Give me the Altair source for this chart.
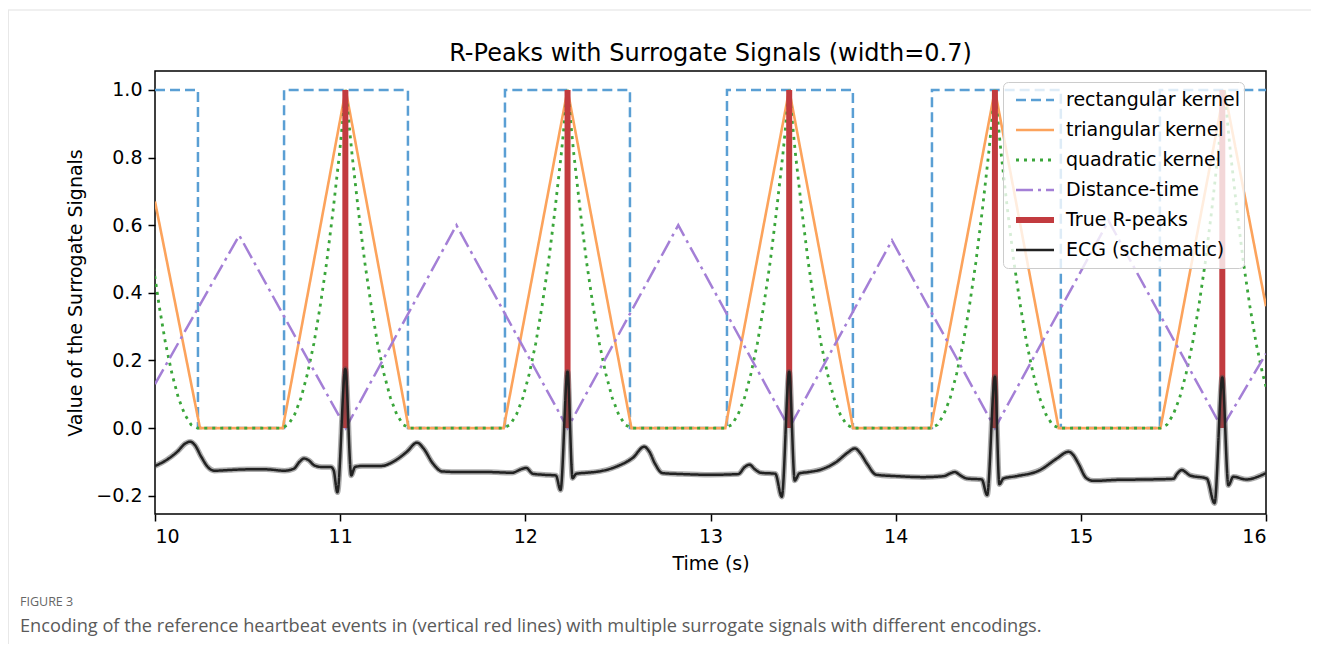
import altair as alt
import pandas as pd

# ---------------- data ----------------
series_order = ["rectangular kernel", "triangular kernel", "quadratic kernel",
                "Distance-time", "True R-peaks", "ECG (schematic)"]

rect_t = [10.0, 10.232, 10.232, 10.697, 10.697, 11.366, 11.366, 11.89, 11.89,
          12.565, 12.565, 13.089, 13.089, 13.769, 13.769, 14.196, 14.196,
          14.892, 14.892, 15.427, 15.427, 16.0]
rect_v = [1, 1, 0, 0, 1, 1, 0, 0, 1, 1, 0, 0, 1, 1, 0, 0, 1, 1, 0, 0, 1, 1]

tri_t = [10.0, 10.243, 10.69, 11.03, 11.37, 11.883, 12.228, 12.573, 13.08,
         13.425, 13.77, 14.19, 14.536, 14.88, 15.43, 15.775, 16.0]
tri_v = [0.67, 0, 0, 1, 0, 0, 1, 0, 0, 1, 0, 0, 1, 0, 0, 1, 0.36]

quad_centers = [9.885, 11.03, 12.228, 13.425, 14.536, 15.775]
quad_off = [-0.345, -0.31, -0.276, -0.241, -0.207, -0.172, -0.138, -0.103,
            -0.069, -0.034, 0.0, 0.034, 0.069, 0.103, 0.138, 0.172, 0.207,
            0.241, 0.276, 0.31, 0.345]
quad_val = [0.0, 0.01, 0.04, 0.09, 0.16, 0.25, 0.36, 0.49, 0.64, 0.81, 1.0,
            0.81, 0.64, 0.49, 0.36, 0.25, 0.16, 0.09, 0.04, 0.01, 0.0]

dist_t = [10.0, 10.455, 11.03, 11.628, 12.228, 12.826, 13.425, 13.98, 14.536,
          15.15, 15.762, 16.0]
dist_v = [0.13, 0.57, 0.0, 0.6, 0.0, 0.6, 0.0, 0.555, 0.0, 0.613, 0.0, 0.22]

rpeak_t = [11.028, 12.228, 13.425, 14.536, 15.764]

ecg_t = [10.00, 10.06, 10.12, 10.165, 10.19, 10.215, 10.25, 10.285, 10.32, 10.40,
         10.50, 10.60, 10.70, 10.75, 10.78, 10.805, 10.83, 10.86, 10.90, 10.95,
         10.965, 10.985, 11.028, 11.06, 11.08, 11.12, 11.22, 11.30, 11.36, 11.415,
         11.45, 11.50, 11.55, 11.65, 11.80, 11.93, 11.975, 12.005, 12.04, 12.10,
         12.165, 12.19, 12.228, 12.255, 12.275, 12.33, 12.40, 12.50, 12.58, 12.642,
         12.67, 12.70, 12.74, 12.85, 13.00, 13.15, 13.185, 13.21, 13.24, 13.27,
         13.35, 13.385, 13.425, 13.455, 13.48, 13.53, 13.60, 13.68, 13.74, 13.78,
         13.81, 13.845, 13.895, 14.00, 14.15, 14.26, 14.29, 14.32, 14.35, 14.385,
         14.465, 14.494, 14.536, 14.56, 14.582, 14.654, 14.78, 14.87, 14.933, 14.96,
         14.987, 15.03, 15.07, 15.20, 15.35, 15.50, 15.52, 15.546, 15.57, 15.59,
         15.68, 15.722, 15.764, 15.797, 15.823, 15.895, 15.95, 16.00]
ecg_v = [-0.112, -0.095, -0.07, -0.045, -0.04, -0.05, -0.085, -0.115, -0.126, -0.124,
         -0.122, -0.122, -0.126, -0.12, -0.10, -0.09, -0.095, -0.11, -0.115, -0.115,
         -0.125, -0.19, 0.175, -0.14, -0.115, -0.112, -0.112, -0.095, -0.07, -0.043,
         -0.06, -0.104, -0.128, -0.13, -0.13, -0.132, -0.122, -0.118, -0.135, -0.138,
         -0.14, -0.183, 0.167, -0.148, -0.135, -0.132, -0.128, -0.112, -0.088, -0.055,
         -0.07, -0.105, -0.133, -0.136, -0.138, -0.136, -0.115, -0.108, -0.122, -0.132,
         -0.135, -0.203, 0.167, -0.155, -0.134, -0.13, -0.122, -0.10, -0.073, -0.06,
         -0.075, -0.105, -0.138, -0.142, -0.145, -0.142, -0.135, -0.13, -0.14, -0.149,
         -0.152, -0.198, 0.152, -0.166, -0.149, -0.142, -0.124, -0.09, -0.07, -0.08,
         -0.105, -0.148, -0.156, -0.153, -0.152, -0.15, -0.135, -0.124, -0.132, -0.14,
         -0.149, -0.222, 0.15, -0.169, -0.144, -0.152, -0.145, -0.133]

title_text = "R-Peaks with Surrogate Signals (width=0.7)"
x_title = "Time (s)"
y_title = "Value of the Surrogate Signals"
x_ticks = [10, 11, 12, 13, 14, 15, 16]
y_ticks = [-0.2, 0.0, 0.2, 0.4, 0.6, 0.8, 1.0]
fig_label = "FIGURE 3"
caption = ("Encoding of the reference heartbeat events in (vertical red lines) "
           "with multiple surrogate signals with different encodings.")

# ---------------- styles ----------------
colors = ["#5a9fd4", "#fca35c", "#3aa63a", "#a47fd6", "#c23b3f", "#222222"]
dashes = [[10, 5], [1, 0], [3, 5], [17, 5, 3, 5], [1, 0], [1, 0]]
widths = [2.5, 2.6, 2.8, 2.5, 6.0, 2.5]

# ---------------- tables ----------------
rows = []
k = 0


def add(series, seg, ts, vs):
    global k
    for t, v in zip(ts, vs):
        rows.append(dict(series=series, seg=seg, t=t, v=v, o=k))
        k += 1


add(series_order[0], "rect", rect_t, rect_v)
add(series_order[1], "tri", tri_t, tri_v)
for c in quad_centers:
    add(series_order[2], "quad", [c + d for d in quad_off], quad_val)
add(series_order[3], "dist", dist_t, dist_v)
for i, t in enumerate(rpeak_t):
    add(series_order[4], f"r{i}", [t, t], [0, 1])
kern = pd.DataFrame(rows)

ecg = pd.DataFrame({"t": ecg_t, "v": ecg_v})
ecg["series"] = series_order[5]
ecg["o"] = range(len(ecg))

leg = alt.Legend(title=None, orient="none", legendX=848, legendY=11,
                 symbolType="stroke", symbolSize=1444, symbolOffset=7,
                 clipHeight=30, labelFontSize=19,
                 labelFont="DejaVu Sans", labelColor="black", labelOffset=9,
                 labelLimit=400, labelExpr="datum.label + '\u00a0\u00a0'",
                 fillColor="rgba(255,255,255,0.8)", strokeColor="#cccccc",
                 cornerRadius=5, padding=3, rowPadding=0)

xenc = alt.X("t:Q", scale=alt.Scale(domain=[10, 16], nice=False, zero=False),
             axis=alt.Axis(title=x_title, values=x_ticks, format="d",
                           titlePadding=8))
yenc = alt.Y("v:Q", scale=alt.Scale(domain=[-0.254, 1.056], nice=False, zero=False),
             axis=alt.Axis(title=y_title, values=y_ticks, format=".1f",
                           titlePadding=10))
cenc = alt.Color("series:N", scale=alt.Scale(domain=series_order, range=colors), legend=leg)
denc = alt.StrokeDash("series:N", scale=alt.Scale(domain=series_order, range=dashes), legend=leg)
wenc = alt.StrokeWidth("series:N", scale=alt.Scale(type="ordinal", domain=series_order,
                                                   range=widths), legend=leg)

kernels = alt.Chart(kern).mark_line(clip=True).encode(
    x=xenc, y=yenc, color=cenc, strokeDash=denc, strokeWidth=wenc,
    detail="seg:N", order="o:Q")

halo = alt.Chart(ecg).mark_line(clip=True, interpolate="monotone", color="#4a4a4a",
                                strokeWidth=5.5, opacity=0.45).encode(
    x="t:Q", y="v:Q", order="o:Q")

ecg_line = alt.Chart(ecg).mark_line(clip=True, interpolate="monotone").encode(
    x="t:Q", y="v:Q", color=cenc, strokeDash=denc, strokeWidth=wenc, order="o:Q")

one = pd.DataFrame({"a": [0]})
top_border = alt.Chart(one).mark_rule(color="#e2e2e2", strokeWidth=1.2).encode(
    x=alt.value(-147), x2=alt.value(1164), y=alt.value(-61))
left_border = alt.Chart(one).mark_rule(color="#e8e8e8", strokeWidth=1).encode(
    x=alt.value(-146.5), y=alt.value(-61), y2=alt.value(590))

ttl = alt.Chart(pd.DataFrame({"txt": [title_text]})).mark_text(
    align="center", baseline="alphabetic", font="DejaVu Sans", fontSize=24,
    color="black").encode(x=alt.value(555.5), y=alt.value(-10), text="txt:N")
lab = alt.Chart(pd.DataFrame({"txt": [fig_label]})).mark_text(
    align="left", baseline="middle", font="Open Sans", fontSize=12.5,
    color="#666666").encode(x=alt.value(-135), y=alt.value(531), text="txt:N")
cap = alt.Chart(pd.DataFrame({"txt": [caption]})).mark_text(
    align="left", baseline="middle", font="Open Sans", fontSize=18.2,
    color="#5a5a5a").encode(x=alt.value(-135), y=alt.value(556), text="txt:N")

chart = alt.layer(top_border, left_border, kernels, halo, ecg_line, ttl, lab, cap).properties(
    width=1111, height=443,
    padding={"left": 147, "top": 63, "right": 45, "bottom": 130},
    autosize=alt.AutoSizeParams(type="none"),
).configure_axis(
    domain=False, grid=False, tickColor="black", tickWidth=1.5, tickSize=7,
    labelFont="DejaVu Sans", labelFontSize=19, labelColor="black", labelPadding=6,
    titleFont="DejaVu Sans", titleFontSize=19, titleFontWeight="normal",
    titleColor="black",
).configure_view(stroke="black", strokeWidth=1.5)

chart.save("out.html", embed_options={"renderer": "svg", "actions": False})
